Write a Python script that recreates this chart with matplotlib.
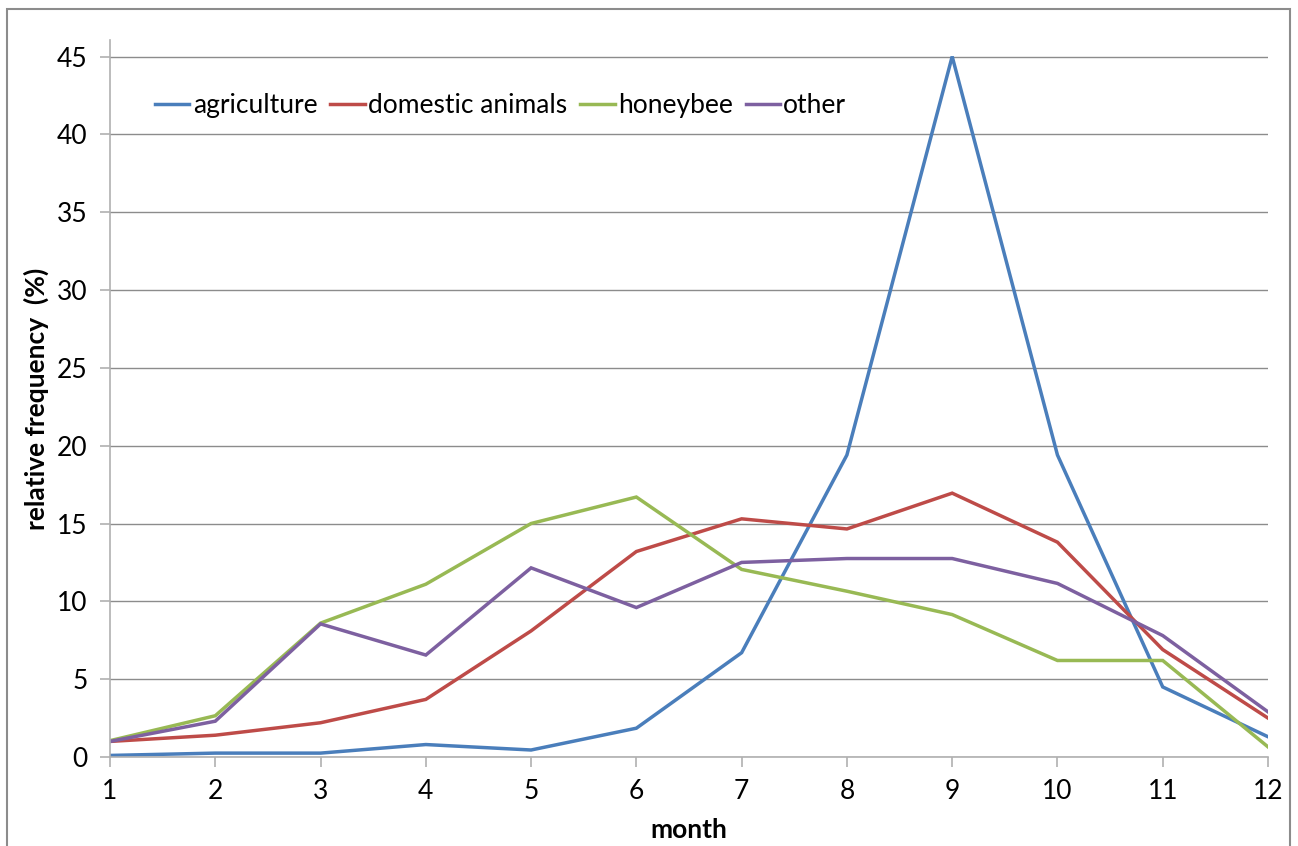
import matplotlib
matplotlib.use("Agg")
import matplotlib.pyplot as plt
from matplotlib.patches import Rectangle

plt.rcParams['font.family'] = ['Lato', 'DejaVu Sans']

months = list(range(1, 13))
agriculture = [0.1, 0.25, 0.25, 0.8, 0.45, 1.85, 6.7, 19.4, 45.0, 19.4, 4.5, 1.3]
domestic_animals = [1.0, 1.4, 2.2, 3.7, 8.1, 13.2, 15.3, 14.65, 16.95, 13.8, 6.9, 2.5]
honeybee = [1.05, 2.65, 8.6, 11.1, 15.0, 16.7, 12.05, 10.65, 9.15, 6.2, 6.2, 0.65]
other = [1.0, 2.3, 8.55, 6.55, 12.15, 9.6, 12.5, 12.75, 12.75, 11.15, 7.8, 2.9]

series = [
    ("agriculture", agriculture, "#4A7EBB"),
    ("domestic animals", domestic_animals, "#BE4B48"),
    ("honeybee", honeybee, "#98B954"),
    ("other", other, "#7D60A0"),
]

fig = plt.figure(figsize=(12.98, 8.46), dpi=100)
ax = fig.add_axes([110 / 1298, 1 - 757 / 846, (1268 - 110) / 1298, (757 - 40) / 846])

for name, vals, color in series:
    ax.plot(months, vals, color=color, lw=2.5, label=name, solid_joinstyle='miter')

ax.set_xlim(1, 12)
ax.set_ylim(0, 45 + (56.5 - 40) / (700.5 / 45))
ax.set_xticks(months)
ax.set_yticks(range(0, 50, 5))
ax.yaxis.grid(True, color="#8c8c8c", lw=1)
ax.set_axisbelow(True)

for side in ("top", "right"):
    ax.spines[side].set_visible(False)
for side in ("left", "bottom"):
    ax.spines[side].set_color("#b0b0b0")
    ax.spines[side].set_linewidth(1.2)

ax.tick_params(axis="both", direction="out", color="#b0b0b0", length=7,
               width=1.2, labelsize=19, colors="#b0b0b0", labelcolor="black")
ax.tick_params(axis="y", pad=9)
ax.tick_params(axis="x", pad=9)

ax.set_xlabel("month", fontsize=19, fontweight="bold", labelpad=10)
ax.set_ylabel("relative frequency  (%)", fontsize=19, fontweight="bold", labelpad=6)

ax.legend(loc="center left", bbox_to_anchor=(0.039, 0.908), ncol=4, frameon=False,
          fontsize=19, handlelength=1.3, handletextpad=0.12, columnspacing=0.5,
          borderpad=0, borderaxespad=0)

# grey frame around the whole chart
fig.patches.append(Rectangle((7 / 1298, -0.05), 1283 / 1298, 1 - 9 / 846 + 0.05,
                             transform=fig.transFigure, fill=False,
                             edgecolor="#8c8c8c", lw=1.5))

fig.savefig("out.png", dpi=100)
